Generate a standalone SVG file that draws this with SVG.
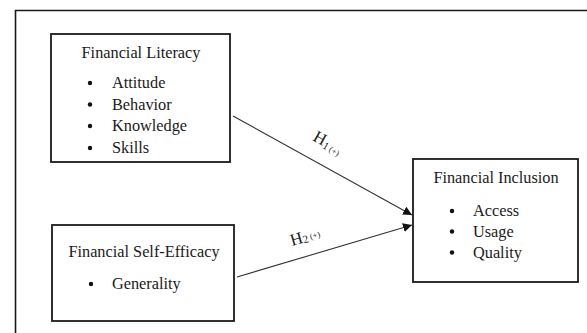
<svg xmlns="http://www.w3.org/2000/svg" width="587" height="333" viewBox="0 0 587 333">
<style>
.t{font-family:"Liberation Serif","Times New Roman",serif;font-size:16.3px;fill:#1a1a1a}
.box{fill:#fff;stroke:#1a1a1a;stroke-width:1.8}
.edge{stroke:#333;stroke-width:1.1;fill:none}
.h{font-family:"Liberation Serif","Times New Roman",serif;fill:#1a1a1a}
</style>
<defs>
<marker id="ah" viewBox="0 0 10 10" refX="10" refY="5" markerWidth="9" markerHeight="9" markerUnits="userSpaceOnUse" orient="auto">
<path d="M0,0 L10,5 L0,10 z" fill="#111"/>
</marker>
</defs>
<rect width="587" height="333" fill="#fff"/>
<path d="M15.5,340 V10.5 H600" fill="none" stroke="#1a1a1a" stroke-width="1.6"/>
<g id="financial-literacy">
<rect class="box" x="51" y="34" width="179" height="128"/>
<text class="t" x="141" y="58" text-anchor="middle">Financial Literacy</text>
<circle cx="90" cy="83" r="2.2" fill="#111"/>
<text class="t" x="112" y="88">Attitude</text>
<circle cx="90" cy="104.5" r="2.2" fill="#111"/>
<text class="t" x="112" y="109.5">Behavior</text>
<circle cx="90" cy="126" r="2.2" fill="#111"/>
<text class="t" x="112" y="131">Knowledge</text>
<circle cx="90" cy="148" r="2.2" fill="#111"/>
<text class="t" x="112" y="153">Skills</text>
</g>
<g id="financial-self-efficacy">
<rect class="box" x="52" y="225" width="182" height="96"/>
<text class="t" x="144" y="257" text-anchor="middle">Financial Self-Efficacy</text>
<circle cx="91" cy="284" r="2.2" fill="#111"/>
<text class="t" x="112" y="289">Generality</text>
</g>
<g id="financial-inclusion">
<rect class="box" x="413" y="159" width="165" height="123"/>
<text class="t" x="496" y="183" text-anchor="middle">Financial Inclusion</text>
<circle cx="452" cy="211" r="2.2" fill="#111"/>
<text class="t" x="473" y="216">Access</text>
<circle cx="452" cy="231.5" r="2.2" fill="#111"/>
<text class="t" x="473" y="236.5">Usage</text>
<circle cx="452" cy="252.5" r="2.2" fill="#111"/>
<text class="t" x="473" y="257.5">Quality</text>
</g>
<g id="connectors">
<line class="edge" x1="233" y1="116" x2="412" y2="215" marker-end="url(#ah)"/>
<line class="edge" x1="237" y1="277" x2="412" y2="225" marker-end="url(#ah)"/>
<text class="h" transform="translate(312,140) rotate(29)"><tspan font-size="17">H</tspan><tspan font-size="11" dy="2">1</tspan><tspan font-size="8.5" dx="2">(+)</tspan></text>
<text class="h" transform="translate(292,246) rotate(-16)"><tspan font-size="17">H</tspan><tspan font-size="11" dy="1">2</tspan><tspan font-size="8.5" dx="2" dy="-2">(+)</tspan></text>
</g>
</svg>
